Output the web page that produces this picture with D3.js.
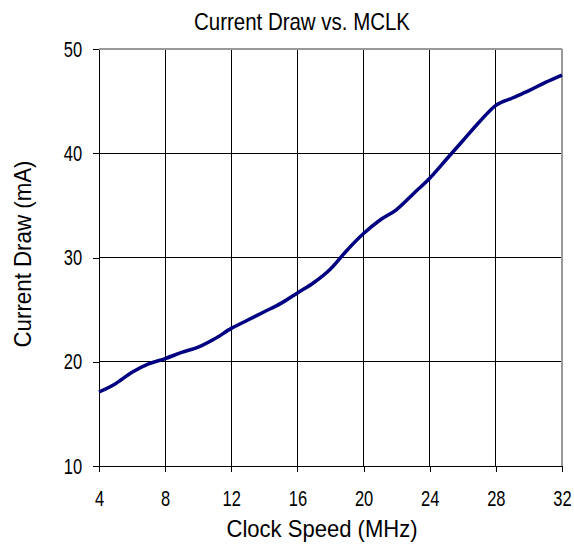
<!DOCTYPE html>
<html>
<head>
<meta charset="utf-8">
<script src="https://cdn.jsdelivr.net/npm/d3@7"></script>
<style>
  body { margin: 0; background: #fff; }
  text { font-family: "Liberation Sans", Arial, sans-serif; fill: #000; }
</style>
</head>
<body>
<div id="chart"></div>
<script>
const clockMHz = [4, 5, 6, 7, 8, 9, 10, 11, 12, 13, 14, 15, 16, 17, 18, 19, 20, 21, 22, 23, 24, 25, 26, 27, 28, 29, 30, 31, 32];
const currentMA = [17.1, 17.9, 19.0, 19.8, 20.3, 20.9, 21.4, 22.2, 23.2, 24.0, 24.8, 25.6, 26.6, 27.6, 28.9, 30.7, 32.3, 33.6, 34.6, 36.1, 37.6, 39.4, 41.2, 43.0, 44.6, 45.3, 46.0, 46.8, 47.5];
const xTicks = [4, 8, 12, 16, 20, 24, 28, 32];
const yTicks = [10, 20, 30, 40, 50];

const margin = { top: 49, right: 12, bottom: 81, left: 99 };
const width = 574 - margin.left - margin.right;
const height = 547 - margin.top - margin.bottom;

const svg = d3.select("#chart").append("svg")
    .attr("width", 574)
    .attr("height", 547)
    .append("g")
    .attr("transform", `translate(${margin.left},${margin.top})`);

const x = d3.scaleLinear().domain([4, 32]).range([0, width]);
const y = d3.scaleLinear().domain([10, 50]).range([height, 0]);

// grid
svg.append("g").selectAll("line")
    .data(xTicks.slice(1, -1))
    .join("line")
    .attr("x1", d => x(d)).attr("x2", d => x(d))
    .attr("y1", 0).attr("y2", height)
    .attr("stroke", "#000").attr("shape-rendering", "crispEdges");

svg.append("g").selectAll("line")
    .data(yTicks.slice(1, -1))
    .join("line")
    .attr("x1", 0).attr("x2", width)
    .attr("y1", d => y(d)).attr("y2", d => y(d))
    .attr("stroke", "#000").attr("shape-rendering", "crispEdges");

// gray frame on top and right
svg.append("line").attr("x1", 0).attr("x2", width).attr("y1", 0).attr("y2", 0)
    .attr("stroke", "#999").attr("stroke-width", 1.5).attr("shape-rendering", "crispEdges");
svg.append("line").attr("x1", width).attr("x2", width).attr("y1", 0).attr("y2", height)
    .attr("stroke", "#999").attr("stroke-width", 1.5).attr("shape-rendering", "crispEdges");

const xAxis = svg.append("g")
    .attr("transform", `translate(0,${height})`)
    .call(d3.axisBottom(x).tickValues(xTicks).tickSize(6).tickPadding(18).tickSizeOuter(0));

const yAxis = svg.append("g")
    .call(d3.axisLeft(y).tickValues(yTicks).tickSize(6).tickPadding(16.5).tickSizeOuter(0));

[xAxis, yAxis].forEach(g => {
    g.select(".domain").attr("stroke", "#000").attr("stroke-width", 1.5).attr("shape-rendering", "crispEdges");
    g.selectAll(".tick line").attr("stroke", "#000").attr("shape-rendering", "crispEdges");
    g.selectAll(".tick text")
        .attr("font-size", 22)
        .attr("font-family", null)
        .attr("transform", "scale(0.75,1)");
});

const line = d3.line()
    .x((d, i) => x(clockMHz[i]))
    .y(d => y(d))
    .curve(d3.curveMonotoneX);

svg.append("path")
    .datum(currentMA)
    .attr("fill", "none")
    .attr("stroke", "#000080")
    .attr("stroke-width", 3.5)
    .attr("stroke-linejoin", "round")
    .attr("d", line);

svg.append("text")
    .attr("x", 302 - margin.left)
    .attr("y", 30 - margin.top)
    .attr("text-anchor", "middle")
    .attr("font-size", 24)
    .attr("textLength", 216)
    .attr("lengthAdjust", "spacingAndGlyphs")
    .text("Current Draw vs. MCLK");

svg.append("text")
    .attr("x", 322 - margin.left)
    .attr("y", 537 - margin.top)
    .attr("text-anchor", "middle")
    .attr("font-size", 24)
    .attr("textLength", 191)
    .attr("lengthAdjust", "spacingAndGlyphs")
    .text("Clock Speed (MHz)");

svg.append("text")
    .attr("transform", "rotate(-90)")
    .attr("x", -(254 - margin.top))
    .attr("y", 31 - margin.left)
    .attr("text-anchor", "middle")
    .attr("font-size", 24)
    .attr("textLength", 187)
    .attr("lengthAdjust", "spacingAndGlyphs")
    .text("Current Draw (mA)");
</script>
</body>
</html>
